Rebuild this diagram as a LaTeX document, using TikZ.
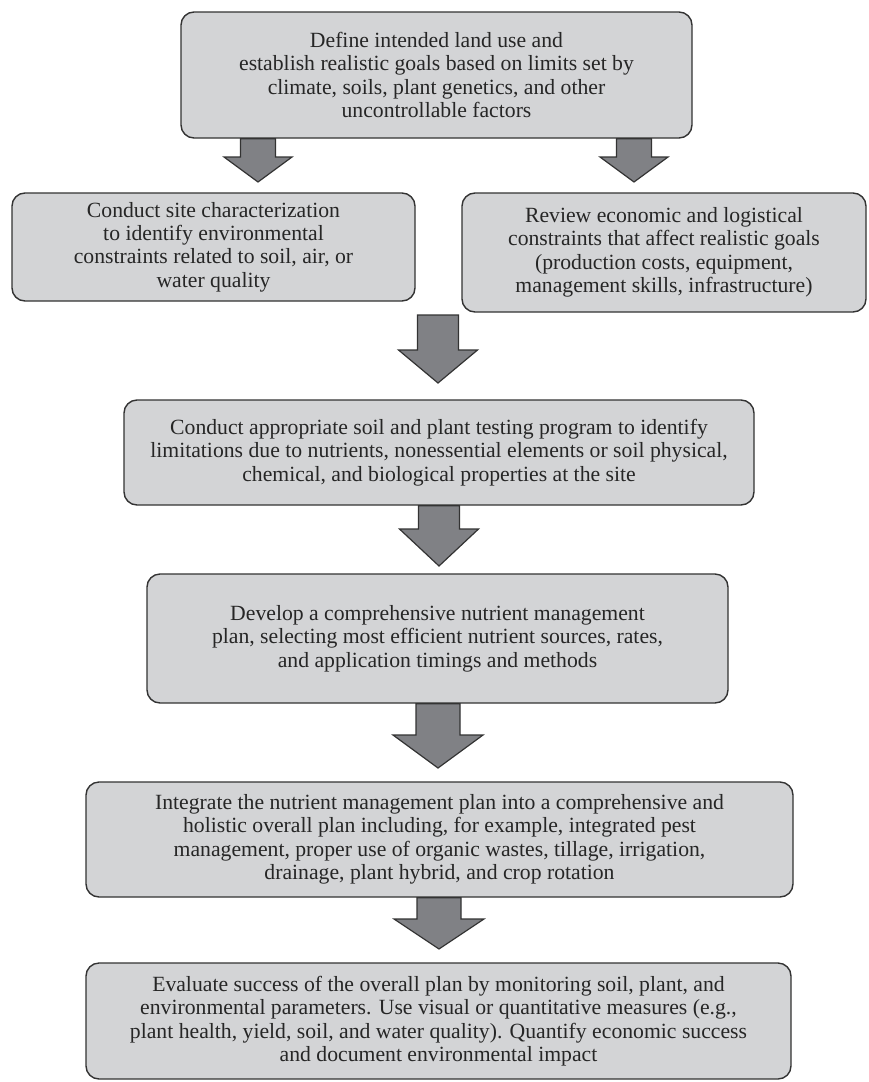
\documentclass[tikz,border=0pt]{standalone}
\usepackage{fontspec}
\setmainfont{Liberation Serif}
\usetikzlibrary{calc}
\definecolor{boxfill}{HTML}{D3D4D6}
\definecolor{arrfill}{HTML}{808185}
\definecolor{edge}{HTML}{333333}
\tikzset{
  stepbox/.style={draw=edge, line width=1.4pt, fill=boxfill, rounded corners=13pt,
    inner sep=0pt, align=center, text=black!85,
    font=\fontsize{21.7}{23.4}\selectfont},
  barrow/.style={draw=edge, line width=1.2pt, fill=arrfill, line join=miter}
}
\newcommand{\blockarrow}[5]{%
  \draw[barrow] let \p1=(#1), \p2=(#2) in
    (\x2-#3pt,\y1) -- (\x2-#3pt,\y2+#5pt) -- (\x2-#4pt,\y2+#5pt) -- (\x2,\y2)
    -- (\x2+#4pt,\y2+#5pt) -- (\x2+#3pt,\y2+#5pt) -- (\x2+#3pt,\y1) -- cycle;}
\begin{document}
\begin{tikzpicture}[x=1pt,y=-1pt]
\useasboundingbox (0,0) rectangle (868,1082);
\node[stepbox, minimum width=511pt, minimum height=126pt] (b1) at (436.5,75)
  {Define intended land use and\\establish realistic goals based on limits set by\\climate, soils, plant genetics, and other\\uncontrollable factors};
\node[stepbox, minimum width=403pt, minimum height=108pt] (b2) at (213.5,247)
  {Conduct site characterization\\to identify environmental\\constraints related to soil, air, or\\water quality};
\node[stepbox, minimum width=404pt, minimum height=119pt] (b3) at (664,252.5)
  {Review economic and logistical\\constraints that affect realistic goals\\(production costs, equipment,\\management skills, infrastructure)};
\node[stepbox, minimum width=630pt, minimum height=105pt] (b4) at (439,452.5)
  {Conduct appropriate soil and plant testing program to identify\\limitations due to nutrients, nonessential elements or soil physical,\\chemical, and biological properties at the site};
\node[stepbox, minimum width=581pt, minimum height=129pt] (b5) at (437.5,638.5)
  {Develop a comprehensive nutrient management\\plan, selecting most efficient nutrient sources, rates,\\and application timings and methods};
\node[stepbox, minimum width=707pt, minimum height=115pt] (b6) at (439.5,839.5)
  {Integrate the nutrient management plan into a comprehensive and\\holistic overall plan including, for example, integrated pest\\management, proper use of organic wastes, tillage, irrigation,\\drainage, plant hybrid, and crop rotation};
\node[stepbox, minimum width=705pt, minimum height=116pt] (b7) at (438.5,1021)
  {Evaluate success of the overall plan by monitoring soil, plant, and\\environmental parameters. Use visual or quantitative measures (e.g.,\\plant health, yield, soil, and water quality). Quantify economic success\\and document environmental impact};
% tips and free start
\coordinate (t1) at (258,182);
\coordinate (t2) at (634,182);
\coordinate (s3) at (438,315);
\coordinate (t3) at (438,383);
\coordinate (t4) at (439,566);
\coordinate (t5) at (438,768);
\coordinate (t6) at (439,949);
\blockarrow{b1.south}{t1}{17.5}{34}{25}
\blockarrow{b1.south}{t2}{17.5}{34}{25}
\blockarrow{s3}{t3}{20.5}{39.5}{33}
\blockarrow{b4.south}{t4}{20.5}{39.5}{37}
\blockarrow{b5.south}{t5}{22}{45}{33}
\blockarrow{b6.south}{t6}{22}{45}{30}
\end{tikzpicture}
\end{document}
